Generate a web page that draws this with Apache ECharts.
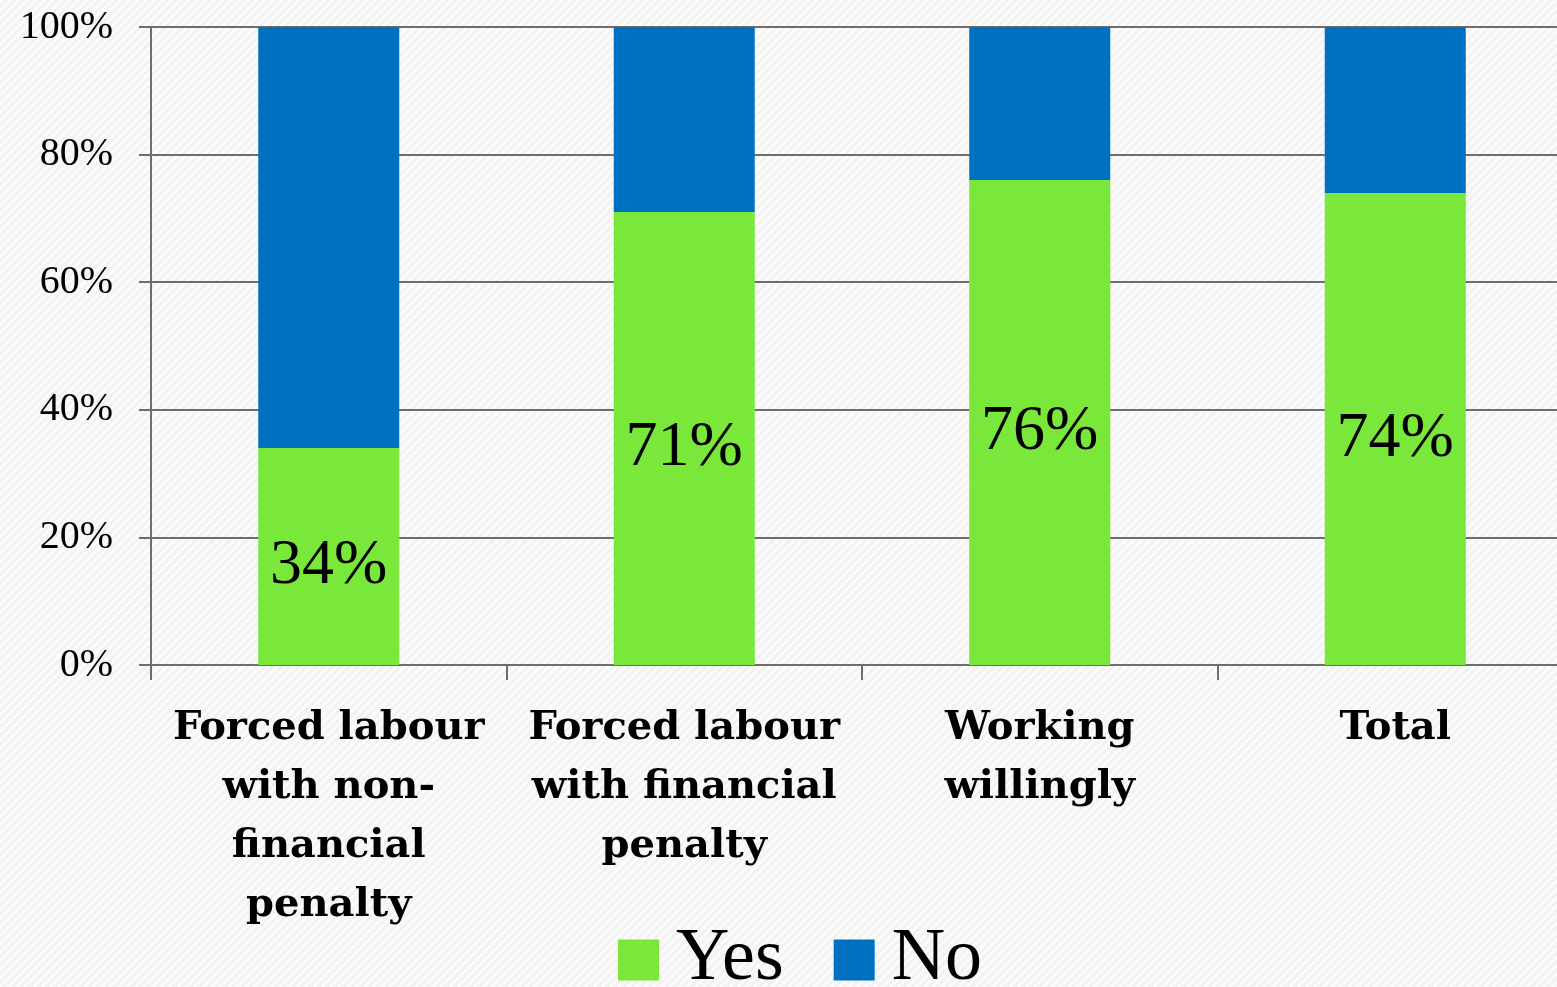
<!DOCTYPE html>
<html>
<head>
<meta charset="utf-8">
<script src="https://cdn.jsdelivr.net/npm/echarts@6/dist/echarts.min.js"></script>
<style>
  html, body { margin: 0; padding: 0; overflow: hidden; }
  body {
    width: 1557px;
    height: 987px;
    background-color: #f7f7f7;
    background-image: repeating-linear-gradient(135deg, rgba(255,255,255,0.5) 0 3px, rgba(238,238,238,0.5) 3px 6px);
  }
  /* the plot runs a little past the right edge, as in the original slide */
  #chart { width: 1573px; height: 987px; }
</style>
</head>
<body>
<div id="chart"></div>
<script>
// categories and values (percent)
const categories = [
  'Forced labour\nwith non-\nfinancial\npenalty',
  'Forced labour\nwith financial\npenalty',
  'Working\nwillingly',
  'Total'
]
const yesValues = [34, 71, 76, 74]
const noValues = [66, 29, 24, 26]
const yTicks = [0, 20, 40, 60, 80, 100]

const serif = '"Liberation Serif", "DejaVu Serif", serif'
const wideSerif = '"DejaVu Serif", "Liberation Serif", serif'

let mycharts = echarts.init(document.getElementById('chart'))
mycharts.setOption({
  animation: false,
  textStyle: { fontFamily: serif },
  grid: {
    left: 151,
    top: 27,
    right: 0,
    bottom: 322,
    containLabel: false
  },
  legend: {
    bottom: -15,
    left: 613,
    itemWidth: 41,
    itemHeight: 41,
    itemGap: 50,
    icon: 'rect',
    textStyle: { fontSize: 74, color: '#000', fontFamily: serif, padding: [0, 0, 0, 12] },
    data: ['Yes', 'No']
  },
  xAxis: {
    type: 'category',
    data: categories,
    axisLine: { show: true, lineStyle: { color: '#6e6e6e', width: 2 } },
    axisTick: { show: true, length: 15, lineStyle: { color: '#6e6e6e', width: 2 } },
    axisLabel: {
      margin: 34,
      fontSize: 40,
      fontWeight: 'bold',
      lineHeight: 59,
      color: '#000',
      fontFamily: wideSerif,
      interval: 0
    }
  },
  yAxis: {
    type: 'value',
    min: yTicks[0],
    max: yTicks[yTicks.length - 1],
    interval: 20,
    axisLine: { show: true, lineStyle: { color: '#6e6e6e', width: 2 } },
    axisTick: { show: true, length: 12, lineStyle: { color: '#6e6e6e', width: 2 } },
    splitLine: { show: true, lineStyle: { color: '#6e6e6e', width: 2 } },
    axisLabel: {
      margin: 38,
      fontSize: 40,
      color: '#000',
      fontFamily: serif,
      formatter: '{value}%'
    }
  },
  series: [
    {
      name: 'Yes',
      type: 'bar',
      stack: 'total',
      barWidth: 141,
      data: yesValues,
      itemStyle: { color: '#7ae83a' },
      label: {
        show: true,
        position: 'inside',
        formatter: '{c}%',
        fontSize: 64,
        color: '#000',
        fontFamily: serif,
        offset: [0, 10]
      }
    },
    {
      name: 'No',
      type: 'bar',
      stack: 'total',
      barWidth: 141,
      data: noValues,
      itemStyle: { color: '#0070c0' }
    }
  ]
})
</script>
</body>
</html>
